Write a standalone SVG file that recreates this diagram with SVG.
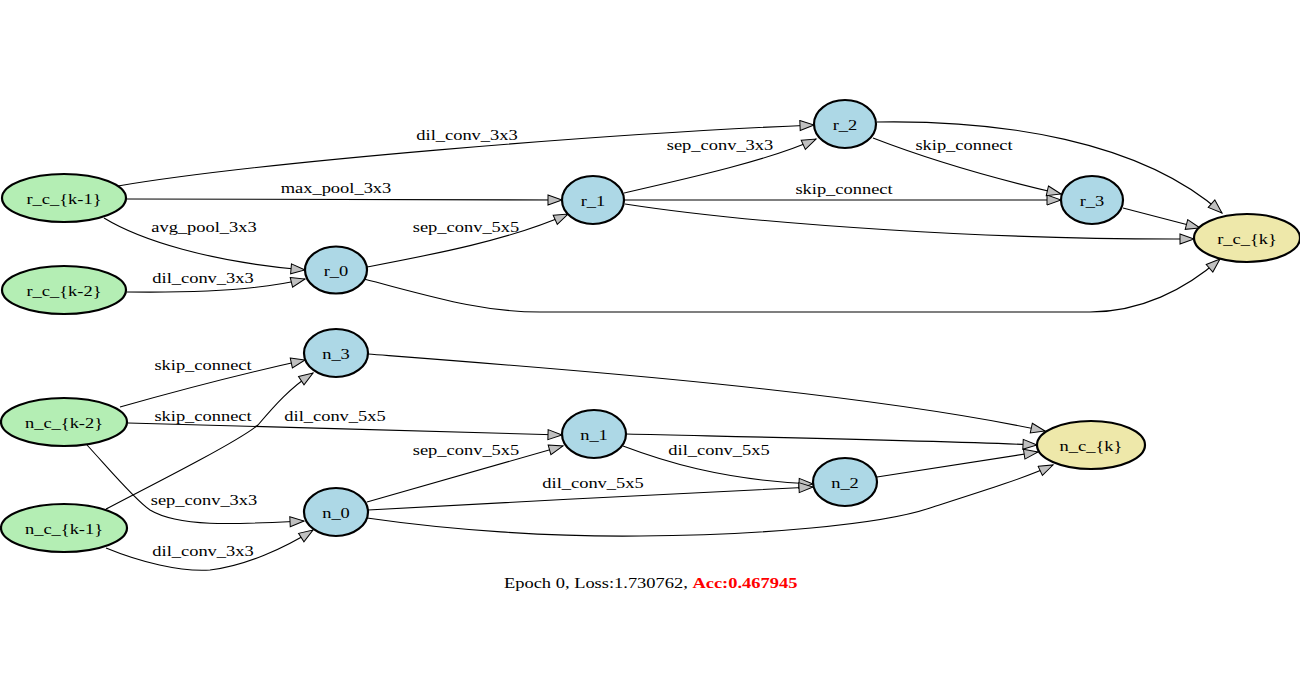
<svg xmlns="http://www.w3.org/2000/svg" width="1300" height="700" viewBox="0 0 1300 700">
<defs>
<marker id="ah" markerUnits="userSpaceOnUse" markerWidth="17" markerHeight="13" refX="15" refY="6" orient="auto">
<path d="M1,1 L15,6 L1,11 Z" fill="#c0c0c0" stroke="#000" stroke-width="1"/>
</marker>
<style>
.e{fill:none;stroke:#000;stroke-width:1.1;marker-end:url(#ah)}
.n{stroke:#000;stroke-width:2.2}
.g{fill:#b4eeb4}.b{fill:#add8e6}.y{fill:#eee8aa}
text{font-family:"Liberation Serif","Times New Roman",serif;font-size:15px;fill:#000;text-anchor:middle}
</style>
</defs>
<rect width="1300" height="700" fill="#fff"/>
<g id="connectors">
<path class="e" d="M118,186 C260,162 600,134 814,125"/>
<path class="e" d="M126,199 L562,200"/>
<path class="e" d="M104,218 C140,240 210,262 305,270"/>
<path class="e" d="M127,292 C200,293 260,290 305,279"/>
<path class="e" d="M367,267 C430,255 510,240 568,214"/>
<path class="e" d="M364,279 C430,296 480,312 540,312 L1090,312 C1140,312 1185,290 1220,259"/>
<path class="e" d="M624,193 C690,178 770,160 816,139"/>
<path class="e" d="M624,200 L1061,200"/>
<path class="e" d="M625,204 C760,225 1000,240 1194,239"/>
<path class="e" d="M873,138 C930,160 1000,180 1061,194"/>
<path class="e" d="M877,122 C1000,120 1140,140 1222,213"/>
<path class="e" d="M1123,208 L1200,228"/>
<path class="e" d="M120,407 C180,390 250,372 305,360"/>
<path class="e" d="M106,509 C170,476 240,440 258,425 C275,405 290,388 313,373"/>
<path class="e" d="M128,423 C250,426 450,432 562,435"/>
<path class="e" d="M87,445 C110,470 135,500 150,510 C180,528 240,524 304,521"/>
<path class="e" d="M106,548 C140,562 180,572 210,570 C245,566 285,548 313,530"/>
<path class="e" d="M368,354 C550,368 850,390 1045,431"/>
<path class="e" d="M626,434 C800,438 950,441 1037,445"/>
<path class="e" d="M623,446 C660,460 720,480 813,484"/>
<path class="e" d="M367,502 L563,446"/>
<path class="e" d="M368,510 C500,503 700,492 813,487"/>
<path class="e" d="M367,518 C450,530 550,537 640,536 C760,535 880,525 930,508 C980,492 1025,478 1053,465"/>
<path class="e" d="M877,477 L1038,452"/>
</g>
<g id="edge-labels">
<text transform="translate(467,140) scale(1.23,1)">dil_conv_3x3</text>
<text transform="translate(336,193) scale(1.23,1)">max_pool_3x3</text>
<text transform="translate(204,232) scale(1.23,1)">avg_pool_3x3</text>
<text transform="translate(203,283) scale(1.23,1)">dil_conv_3x3</text>
<text transform="translate(466,232) scale(1.23,1)">sep_conv_5x5</text>
<text transform="translate(720,150) scale(1.23,1)">sep_conv_3x3</text>
<text transform="translate(844,194) scale(1.23,1)">skip_connect</text>
<text transform="translate(964,150) scale(1.23,1)">skip_connect</text>
<text transform="translate(203,370) scale(1.23,1)">skip_connect</text>
<text transform="translate(203,421) scale(1.23,1)">skip_connect</text>
<text transform="translate(335,421) scale(1.23,1)">dil_conv_5x5</text>
<text transform="translate(204,505) scale(1.23,1)">sep_conv_3x3</text>
<text transform="translate(203,556) scale(1.23,1)">dil_conv_3x3</text>
<text transform="translate(466,455) scale(1.23,1)">sep_conv_5x5</text>
<text transform="translate(593,488) scale(1.23,1)">dil_conv_5x5</text>
<text transform="translate(719,455) scale(1.23,1)">dil_conv_5x5</text>
</g>
<g id="r_c_k-1"><ellipse class="n g" cx="64" cy="198" rx="62" ry="24"/><text transform="translate(64,204) scale(1.23,1)">r_c_{k-1}</text></g>
<g id="r_c_k-2"><ellipse class="n g" cx="64" cy="290" rx="62" ry="24"/><text transform="translate(64,296) scale(1.23,1)">r_c_{k-2}</text></g>
<g id="r_0"><ellipse class="n b" cx="336" cy="270" rx="31" ry="23.5"/><text transform="translate(336,276) scale(1.23,1)">r_0</text></g>
<g id="r_1"><ellipse class="n b" cx="593" cy="200" rx="31" ry="24"/><text transform="translate(593,206) scale(1.23,1)">r_1</text></g>
<g id="r_2"><ellipse class="n b" cx="845" cy="124" rx="31" ry="24"/><text transform="translate(845,130) scale(1.23,1)">r_2</text></g>
<g id="r_3"><ellipse class="n b" cx="1092" cy="200" rx="31" ry="24"/><text transform="translate(1092,206) scale(1.23,1)">r_3</text></g>
<g id="r_c_k"><ellipse class="n y" cx="1247" cy="238" rx="53" ry="24"/><text transform="translate(1247,244) scale(1.23,1)">r_c_{k}</text></g>
<g id="n_c_k-2"><ellipse class="n g" cx="64" cy="422" rx="63" ry="24"/><text transform="translate(64,428) scale(1.23,1)">n_c_{k-2}</text></g>
<g id="n_c_k-1"><ellipse class="n g" cx="64" cy="528" rx="63" ry="24"/><text transform="translate(64,534) scale(1.23,1)">n_c_{k-1}</text></g>
<g id="n_3"><ellipse class="n b" cx="336" cy="353" rx="32" ry="24"/><text transform="translate(336,359) scale(1.23,1)">n_3</text></g>
<g id="n_0"><ellipse class="n b" cx="336" cy="512" rx="32" ry="24"/><text transform="translate(336,518) scale(1.23,1)">n_0</text></g>
<g id="n_1"><ellipse class="n b" cx="594" cy="434" rx="32" ry="24"/><text transform="translate(594,440) scale(1.23,1)">n_1</text></g>
<g id="n_2"><ellipse class="n b" cx="845" cy="482" rx="32" ry="24"/><text transform="translate(845,488) scale(1.23,1)">n_2</text></g>
<g id="n_c_k"><ellipse class="n y" cx="1091" cy="445" rx="54" ry="24"/><text transform="translate(1091,451) scale(1.23,1)">n_c_{k}</text></g>
<g id="caption"><text transform="translate(504,588) scale(1.23,1)" style="text-anchor:start">Epoch 0, Loss:1.730762, <tspan font-weight="bold" fill="#ff0000">Acc:0.467945</tspan></text></g>
</svg>
